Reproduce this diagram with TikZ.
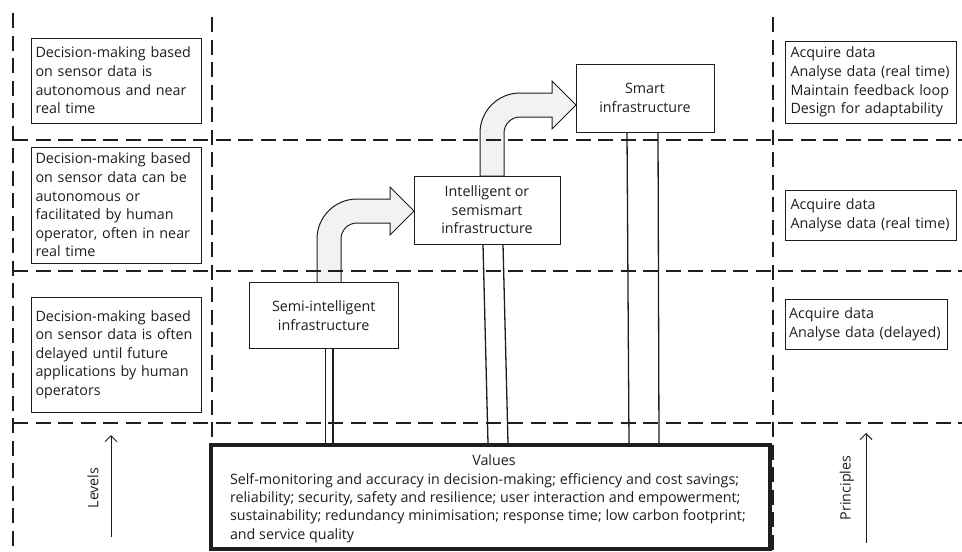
\documentclass[tikz,border=0pt]{standalone}
\usepackage{fontspec}
\setmainfont{Open Sans}
\usetikzlibrary{arrows.meta,calc}
\definecolor{ink}{HTML}{1E1E1E}
\definecolor{arrowfill}{HTML}{F1F2F3}
\hyphenpenalty=10000
\exhyphenpenalty=10000
\begin{document}
\begin{tikzpicture}[x=1pt,y=-1pt,
  every node/.style={font=\fontsize{14.3}{18.6}\selectfont, text=ink},
  dline/.style={draw=ink, line width=1.5pt, dash pattern=on 15pt off 7.5pt},
  tbox/.style={draw=ink, line width=0.9pt, align=left, inner xsep=4.5pt, inner ysep=0pt},
  cbox/.style={draw=ink, line width=0.9pt, align=center, fill=white, inner sep=0pt},
  vline/.style={draw=ink, line width=1.3pt},
  barrow/.style={draw=ink, fill=arrowfill, line width=1pt, line join=miter},
  uparrow/.style={draw=ink, line width=1pt, -{Straight Barb[length=6pt,width=12pt]}}
]
\useasboundingbox (0,0) rectangle (962,552);

% block arrows
\draw[barrow] (317,283) -- (317,239) .. controls (317,216.9) and (334.9,199) .. (357,199)
  -- (390,199) -- (390,187) -- (414,211) -- (390,235) -- (390,223) -- (357,223)
  .. controls (348.2,223) and (341,230.2) .. (341,239) -- (341,283) -- cycle;
\draw[barrow] (480,176) -- (480,133) .. controls (480,110.9) and (497.9,93) .. (520,93)
  -- (552,93) -- (552,81) -- (576,105) -- (552,129) -- (552,117) -- (520,117)
  .. controls (511.2,117) and (504,124.2) .. (504,133) -- (504,176) -- cycle;

% dashed grid
\draw[dline] (13,13) -- (13,552);
\draw[dline] (212,17) -- (212,552);
\draw[dline] (773,17) -- (773,552);
\draw[dline] (13,140) -- (962,140);
\draw[dline] (13,271) -- (962,271);
\draw[dline] (13,423) -- (962,423);

% left boxes
\node[tbox, text width=161pt, minimum height=85pt] (L1) at (116,80.5)
  {Decision-making based\\on sensor data is\\autonomous and near\\real time};
\node[tbox, text width=161pt, minimum height=116pt] (L2) at (116,205)
  {Decision-making based\\on sensor data can be\\autonomous or\\facilitated by human\\operator, often in near\\real time};
\node[tbox, text width=161pt, minimum height=115pt] (L3) at (116,354.5)
  {Decision-making based\\on sensor data is often\\delayed until future\\applications by human\\operators};

% right boxes
\node[tbox, inner xsep=5.5pt, text width=160pt, minimum height=82pt] (R1) at (870.5,82)
  {Acquire data\\Analyse data (real time)\\Maintain feedback loop\\Design for adaptability};
\node[tbox, inner xsep=5.5pt, text width=160pt, minimum height=50pt] (R2) at (870.5,215)
  {Acquire data\\Analyse data (real time)};
\node[tbox, inner xsep=4pt, text width=154pt, minimum height=50pt] (R3) at (866,324)
  {Acquire data\\Analyse data (delayed)};

% centre nodes
\node[cbox, minimum width=149pt, minimum height=66pt] (semi) at (323.7,315.7)
  {Semi-intelligent\\infrastructure};
\node[cbox, minimum width=146pt, minimum height=68pt] (intel) at (487,210)
  {Intelligent or\\semismart\\infrastructure};
\node[cbox, minimum width=138pt, minimum height=68pt] (smart) at (645,98)
  {Smart\\infrastructure};

% values box
\node[draw=ink, line width=4pt, fill=white, minimum width=559pt, minimum height=104pt,
      inner sep=0pt] (values) at (490,497)
  {\parbox[c][104pt][t]{559pt}{\fontsize{14.3}{18.3}\selectfont\vspace*{10pt}%
   \centering\leftskip=8pt plus 1fil Values\par
   \raggedright\leftskip=19.5pt Self-monitoring and accuracy in decision-making; efficiency and cost savings;\\
   reliability; security, safety and resilience; user interaction and empowerment;\\
   sustainability; redundancy minimisation; response time; low carbon footprint;\\
   and service quality\par}};

% connectors to values
\coordinate (s1) at (325.5,0); \coordinate (s2) at (333,0);
\coordinate (i1t) at (483,0); \coordinate (i1b) at (488,0);
\coordinate (i2t) at (503,0); \coordinate (i2b) at (508,0);
\coordinate (m1t) at (627,0); \coordinate (m1b) at (629,0);
\coordinate (m2t) at (658,0); \coordinate (m2b) at (659,0);
\draw[vline] (semi.south -| s1) -- (values.north -| s1);
\draw[vline] (semi.south -| s2) -- (values.north -| s2);
\draw[vline] (intel.south -| i1t) -- (values.north -| i1b);
\draw[vline] (intel.south -| i2t) -- (values.north -| i2b);
\draw[vline] (smart.south -| m1t) -- (values.north -| m1b);
\draw[vline] (smart.south -| m2t) -- (values.north -| m2b);

% side arrows
\coordinate (lvA) at (111,537); \coordinate (lvB) at (111,435);
\coordinate (prA) at (866,543); \coordinate (prB) at (866,433);
\draw[uparrow] (lvA) -- (lvB);
\draw[uparrow] (prA) -- (prB);
\node[rotate=90] (levels) at (93,488) {Levels};
\node[rotate=90] (principles) at (847,488) {Principles};
\end{tikzpicture}
\end{document}
